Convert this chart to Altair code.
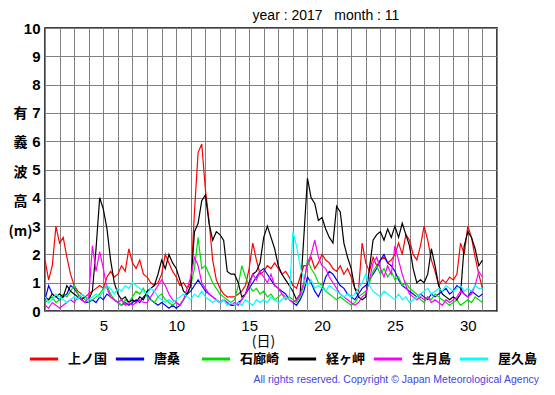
import altair as alt
import pandas as pd

stations = ["上ノ国", "唐桑", "石廊崎", "経ヶ岬", "生月島", "屋久島"]
colors = ["#ff0000", "#0000ff", "#00dd00", "#000000", "#ff00ff", "#00ffff"]

# 6-hourly readings from day 1 00h to day 31 00h (4 per day)
red = [
    1.8, 1.1, 1.6, 3.0,  2.4, 2.6, 1.9, 1.3,  0.9, 0.7, 0.6, 0.5,  0.6, 0.7, 0.8, 0.9,
    0.8, 1.2, 1.4, 1.2,  1.3, 1.6, 1.4, 2.2,  1.7, 1.5, 1.8, 1.3,  1.2, 1.0, 0.9, 1.0,
    1.3, 2.0, 1.7, 1.4,  1.2, 0.9, 1.0, 0.8,  1.0, 3.5, 5.6, 5.9,  4.3, 3.2, 1.8, 1.1,
    0.8, 0.6, 0.5, 0.5,  0.5, 0.6, 0.7, 0.9,  1.5, 2.4, 1.8, 1.3,  1.4, 1.6, 1.5, 1.7,
    1.5, 1.3, 1.4, 1.2,  0.9, 0.8, 1.2, 1.6,  1.6, 1.9, 1.5, 1.7,  2.0, 1.8, 1.7, 1.5,
    1.4, 1.6, 1.3, 1.5,  1.2, 0.8, 0.7, 2.4,  1.7, 1.4, 1.9, 1.6,  1.8, 1.9, 1.7, 1.8,
    2.0, 2.4, 2.0, 2.7,  2.5, 2.0, 1.8, 2.3,  3.0, 2.5, 1.8, 1.4,  0.9, 1.1, 1.0, 1.2,
    1.1, 1.3, 2.4, 2.0,  3.0, 2.6, 1.9, 1.3,  0.8,
]
blue = [
    0.4, 0.9, 0.6, 0.5,  0.4, 0.5, 0.6, 0.9,  0.8, 0.6, 0.4, 0.3,  0.3, 0.4, 0.3, 0.5,
    0.4, 0.6, 0.5, 0.4,  0.3, 0.2, 0.3, 0.2,  0.3, 0.4, 0.3, 0.5,  0.6, 0.4, 0.3, 0.2,
    0.3, 0.2, 0.1, 0.2,  0.1, 0.2, 0.4, 0.6,  0.7, 0.9, 1.1, 0.9,  0.7, 0.6, 0.5, 0.4,
    0.3, 0.4, 0.3, 0.2,  0.2, 0.3, 0.4, 0.6,  0.8, 1.0, 1.2, 1.4,  1.5, 1.3, 1.1, 0.9,
    0.8, 0.7, 0.6, 0.4,  0.3, 0.2, 0.4, 0.7,  1.2, 1.0, 0.7, 0.5,  0.8, 1.2, 1.4, 1.3,
    1.1, 0.9, 0.8, 0.6,  0.5, 0.4, 0.6, 0.8,  0.9, 1.1, 1.3, 1.5,  1.8, 2.0, 1.7, 1.6,
    1.4, 1.1, 0.9, 0.8,  0.7, 0.6, 0.5, 0.6,  0.5, 0.4, 0.6, 0.5,  0.6, 0.7, 0.8, 0.6,
    0.7, 0.9, 0.8, 0.6,  0.5, 0.7, 0.6, 0.5,  0.6,
]
green = [
    0.3, 0.4, 0.5, 0.3,  0.4, 0.6, 0.5, 0.7,  0.9, 0.6, 0.5, 0.4,  0.3, 0.4, 0.5, 0.6,
    0.8, 0.9, 0.6, 0.4,  0.3, 0.2, 0.4, 0.3,  0.5, 0.7, 0.6, 0.8,  0.5, 0.4, 0.3, 0.5,
    0.6, 0.4, 0.3, 0.2,  0.3, 0.2, 0.4, 0.6,  0.9, 1.5, 2.6, 1.5,  1.6, 1.3, 1.0, 0.8,
    0.6, 0.5, 0.4, 0.3,  0.4, 0.9, 1.6, 1.2,  0.9, 0.7, 0.8, 0.6,  0.7, 0.5, 0.6, 0.4,
    0.5, 0.6, 0.4, 0.5,  0.4, 0.3, 0.5, 0.9,  1.8, 1.5, 1.3, 1.0,  0.9, 0.7, 0.6, 0.5,
    0.4, 0.5, 0.4, 0.3,  0.2, 0.3, 0.5, 0.6,  0.7, 1.0, 1.4, 1.6,  1.3, 1.5, 1.2, 1.4,
    1.1, 1.2, 0.9, 1.0,  0.8, 0.7, 0.6, 0.4,  0.3, 0.5, 0.4, 0.6,  0.5, 0.4, 0.3, 0.2,
    0.3, 0.4, 0.2, 0.3,  0.4, 0.3, 0.5, 0.4,  0.3,
]
black = [
    0.5, 0.4, 0.6, 0.5,  0.6, 0.5, 0.9, 0.7,  0.6, 0.5, 0.4, 0.5,  0.4, 0.7, 2.2, 4.0,
    3.6, 2.9, 1.8, 1.0,  0.6, 0.4, 0.5, 0.3,  0.4, 0.3, 0.5, 0.4,  0.7, 0.8, 0.9, 1.3,
    1.8, 1.5, 2.0, 1.7,  1.5, 1.1, 0.7, 0.6,  0.9, 2.8, 3.1, 3.9,  4.1, 3.1, 2.5, 2.8,
    2.7, 2.5, 1.4, 1.3,  1.3, 1.0, 0.5, 0.6,  1.0, 1.3, 1.4, 1.7,  2.6, 3.0, 2.6, 2.2,
    1.6, 1.3, 1.1, 0.9,  0.7, 0.4, 0.6, 2.6,  4.7, 4.0, 3.8, 3.2,  3.3, 2.9, 2.6, 2.4,
    3.7, 3.5, 2.4, 1.9,  1.5, 0.8, 0.5, 0.4,  0.5, 1.5, 2.5, 2.7,  2.8, 2.5, 2.9, 2.6,
    3.0, 2.6, 3.1, 2.7,  2.3, 1.5, 1.0, 1.1,  1.0, 1.3, 2.2, 1.6,  0.9, 0.6, 0.5, 0.4,
    0.5, 0.4, 0.6, 2.3,  2.8, 2.6, 2.2, 1.6,  1.8,
]
magenta = [
    0.2, 0.1, 0.3, 0.2,  0.1, 0.2, 0.3, 0.4,  0.3, 0.5, 0.4, 0.3,  0.5, 2.3, 1.4, 2.1,
    1.5, 0.8, 0.5, 0.4,  0.3, 0.4, 0.2, 0.3,  0.2, 0.3, 0.4, 0.3,  0.3, 0.5, 0.7, 0.9,
    1.1, 0.9, 0.6, 0.4,  0.3, 0.2, 0.4, 0.8,  1.2, 1.9, 1.6, 1.0,  0.8, 0.6, 0.5, 0.4,
    0.3, 0.4, 0.3, 0.2,  0.3, 0.2, 0.4, 0.6,  0.9, 1.3, 1.1, 1.4,  1.2, 1.0, 1.3, 0.9,
    0.8, 0.6, 0.5, 0.4,  0.3, 0.4, 0.6, 1.0,  1.7, 2.0, 2.5, 1.9,  1.6, 1.5, 1.2, 1.0,
    0.8, 0.6, 0.5, 0.4,  0.3, 0.2, 0.3, 0.5,  0.6, 1.1, 1.7, 1.9,  1.5, 1.2, 1.6, 1.3,
    2.3, 1.8, 1.3, 0.9,  0.6, 0.5, 0.4, 0.5,  0.4, 0.5, 0.3, 0.4,  0.3, 0.2, 0.4, 0.3,
    0.4, 0.5, 0.7, 0.6,  0.5, 0.6, 0.9, 1.4,  1.2,
]
cyan = [
    0.5, 0.3, 0.4, 0.6,  0.5, 0.4, 0.3, 0.4,  0.5, 0.4, 0.6, 0.5,  0.4, 0.5, 0.6, 0.5,
    0.7, 0.9, 0.8, 0.6,  0.8, 0.7, 0.9, 0.8,  1.0, 0.9, 0.8, 0.7,  0.6, 0.8, 0.7, 0.5,
    0.4, 0.3, 0.4, 0.3,  0.4, 0.5, 0.6, 0.5,  0.4, 0.6, 0.5, 0.7,  0.5, 0.4, 0.3, 0.4,
    0.3, 0.4, 0.2, 0.3,  0.2, 0.3, 0.2, 0.4,  0.3, 0.2, 0.4, 0.3,  0.4, 0.3, 0.5, 0.4,
    0.3, 0.4, 0.5, 0.4,  2.8, 2.3, 1.6, 1.1,  0.9, 1.1, 0.8, 0.9,  0.8, 0.7, 0.9, 0.8,
    0.7, 0.6, 0.5, 0.6,  0.5, 0.6, 0.8, 1.0,  1.3, 0.9, 0.7, 0.6,  0.5, 0.7, 0.6, 0.5,
    0.4, 0.6, 0.4, 0.5,  0.3, 0.4, 0.5, 0.6,  0.7, 0.8, 0.6, 0.7,  0.8, 0.7, 0.9, 0.8,
    0.7, 0.8, 0.9, 0.7,  0.8, 0.7, 0.9, 0.8,  0.8,
]
series = [red, blue, green, black, magenta, cyan]

x_ticks = list(range(1, 33))
y_ticks = list(range(0, 11))
title_text = "year : 2017\u00a0\u00a0\u00a0month : 11"
y_title = ["有", "義", "波", "高", "(m)"]
x_title = "(日)"
copyright_text = "All rights reserved. Copyright © Japan Meteorological Agency"

rows = []
for name, vals in zip(stations, series):
    for i, v in enumerate(vals):
        rows.append({"day": 1 + i / 4, "height": v, "station": name})
df = pd.DataFrame(rows)

lines = alt.Chart(df).mark_line(strokeWidth=1.2).encode(
    x=alt.X(
        "day:Q",
        scale=alt.Scale(domain=[1, 32], nice=False, zero=False),
        axis=alt.Axis(
            values=x_ticks,
            labelExpr="datum.value % 5 == 0 ? datum.label : ''",
            labelFont="Liberation Sans",
            labelFontSize=15,
            labelColor="black",
            labelPadding=7,
            labelFlush=False,
            title=x_title,
            titleFont="Noto Sans CJK JP",
            titleFontSize=14,
            titleFontWeight="normal",
            titleX=218,
            titleY=30,
            titleBaseline="middle",
            titleColor="black",
        ),
    ),
    y=alt.Y(
        "height:Q",
        scale=alt.Scale(domain=[0, 10], nice=False),
        axis=alt.Axis(
            values=y_ticks,
            labelFont="Liberation Sans",
            labelFontSize=15,
            labelFontWeight="bold",
            labelColor="black",
            labelPadding=5,
            title=y_title,
            titleAngle=0,
            titleFont="Noto Sans CJK JP",
            titleFontSize=14,
            titleFontWeight="bold",
            titleLineHeight=29.5,
            titleX=-25,
            titleY=78,
            titleAlign="center",
            titleBaseline="top",
            titleColor="black",
        ),
    ),
    color=alt.Color(
        "station:N",
        sort=stations,
        scale=alt.Scale(domain=stations, range=colors),
        legend=alt.Legend(
            title=None,
            orient="none",
            legendX=-17,
            legendY=315,
            direction="horizontal",
            columns=6,
            symbolType="stroke",
            symbolSize=800,
            symbolStrokeWidth=3,
            labelFont="Noto Sans CJK JP",
            labelFontSize=13,
            labelFontWeight="bold",
            labelColor="black",
            labelOffset=8,
            columnPadding=1,
            gridAlign="all",
        ),
    ),
)

note = alt.Chart(pd.DataFrame({"t": [copyright_text]})).mark_text(
    align="right", baseline="middle", font="Liberation Sans", fontSize=10.5, color="#4444dd"
).encode(text="t:N", x=alt.value(494), y=alt.value(352))

chart = alt.layer(lines, note).properties(
    width=452,
    height=283,
    padding={"left": 37, "top": 20, "right": 50, "bottom": 76},
    autosize=alt.AutoSizeParams(type="none"),
    title=alt.TitleParams(
        text=title_text,
        font="Liberation Sans",
        fontSize=14,
        fontWeight="normal",
        color="black",
        anchor="middle",
        frame="group",
        dx=55,
        offset=-2,
    ),
).configure_view(
    stroke="black", strokeWidth=1.5
).configure_axis(
    grid=True, gridColor="#808080", gridWidth=1, gridOpacity=1, domain=False, ticks=False
)

chart.save("out.html", embed_options={"renderer": "svg", "actions": False})
